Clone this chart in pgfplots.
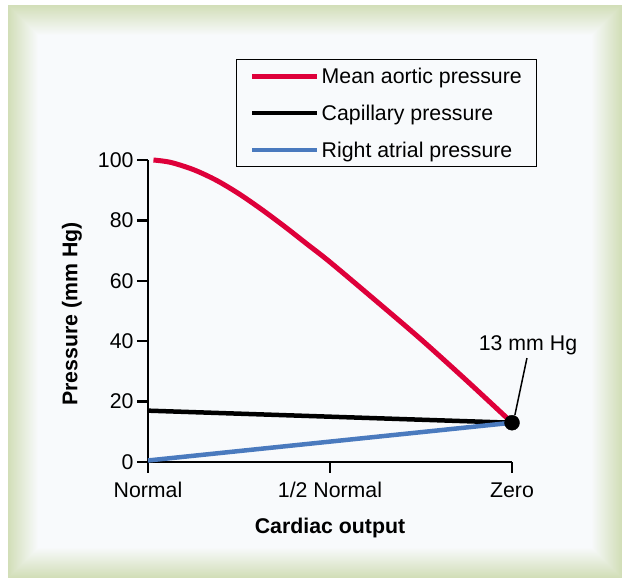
\documentclass[border=0pt]{standalone}
\usepackage{pgfplots}
\pgfplotsset{compat=1.18}
\usepackage{fontspec}
\setmainfont{Liberation Sans}

\definecolor{aortic}{RGB}{222,0,58}
\definecolor{atrial}{RGB}{74,122,190}
\definecolor{framegreen}{RGB}{210,222,184}
\definecolor{panel}{RGB}{248,250,252}

\newcommand{\lbl}{\fontsize{21.3bp}{25bp}\selectfont}

\begin{document}
\begin{tikzpicture}[x=1bp,y=1bp]
    % background frame
    \fill[white] (0,0) rectangle (630,582);
    \foreach \i in {0,...,30} {
        \pgfmathsetmacro\p{100-100*\i/30}
        \fill[framegreen!\p!panel] (8+\i,4+\i) rectangle (622-\i,577-\i);
    }

    \begin{axis}[
        at={(148bp,120bp)}, anchor=south west,
        scale only axis, width=364bp, height=302bp,
        xmin=0, xmax=2, ymin=0, ymax=100,
        axis lines=left,
        axis line style={line width=2.4bp, -},
        xtick={0,1,2},
        xticklabels={Normal,1/2 Normal,Zero},
        ytick={0,20,...,100},
        tick align=outside,
        major tick length=11bp,
        tick style={line width=2.4bp, black},
        ticklabel style={font=\lbl},
        xticklabel style={yshift=-6bp},
        /pgf/number format/assume math mode=true,
        xlabel={Cardiac output},
        ylabel={Pressure (mm Hg)},
        xlabel style={font=\lbl\bfseries, at={(axis description cs:0.5,-0.22)}, anchor=center},
        ylabel style={font=\lbl\bfseries, at={(axis description cs:-0.209,0.49)}, anchor=center},
        clip=false,
        legend style={at={(axis description cs:0.242,1.334)}, anchor=north west,
            draw=black, line width=1.3bp, fill=panel, font=\lbl,
            inner xsep=13bp, inner ysep=6bp, row sep=16bp,
            /tikz/every even column/.append style={column sep=8bp}},
        legend cell align=left,
        legend image code/.code={\draw[#1] (0bp,0bp) -- (65bp,0bp);},
    ]
        \addplot[aortic, line width=5bp, smooth] coordinates {
            (0.03,100) (0.125,99.2) (0.25,96.8) (0.375,93.3) (0.5,88.8)
            (0.625,83.6) (0.75,78.0) (0.875,72.1) (1,66.2) (1.25,53.5)
            (1.5,40.6) (1.75,27.0) (2,13)};
        \addplot[black, line width=4.5bp] coordinates {(0,17) (2,13)};
        \addplot[atrial, line width=4.5bp] coordinates {(0,0.5) (2,13)};
        \addplot[only marks, mark=*, mark size=7.5bp, black, forget plot] coordinates {(2,13)};

        \draw[line width=1.5bp] (axis cs:2.016,15.6) -- (axis cs:2.082,34.4);
        \node[font=\lbl] at (axis cs:2.088,38.7) {13 mm Hg};

        \legend{Mean aortic pressure, Capillary pressure, Right atrial pressure}
    \end{axis}
\end{tikzpicture}
\end{document}
